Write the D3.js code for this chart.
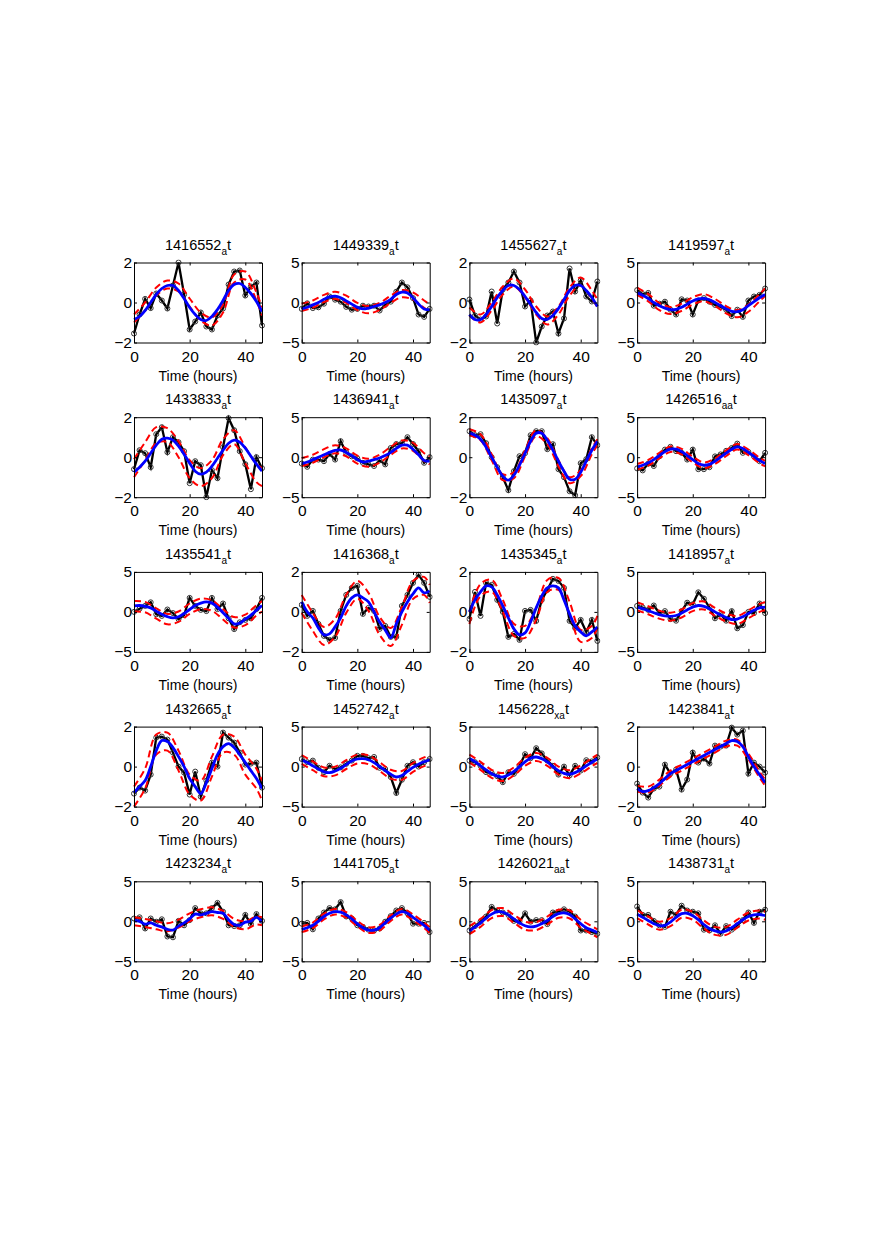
<!doctype html>
<html>
  <head>
    <meta charset="utf-8">
    <script src="https://cdnjs.cloudflare.com/ajax/libs/d3/7.8.5/d3.min.js"></script>
    <style>
      body { margin: 0; background: #fff; }
      text { font-family: "Liberation Sans", Arial, Helvetica, sans-serif; fill: #000; }
      path.data { fill: none; stroke: #000; stroke-width: 2.3; }
      circle.data { fill: none; stroke: #333; stroke-width: 1; }
      path.fit { fill: none; stroke: #0000ff; stroke-width: 2.8; }
      path.band { fill: none; stroke: #ff0000; stroke-width: 2; stroke-dasharray: 7 4; }
    </style>
  </head>
  <body>
    <svg id="fig" width="872" height="1253"></svg>
    <script>
      // sampling times (hours)
      var hours = [0,2,4,6,8,10,12,14,16,18,20,22,24,26,28,30,32,34,36,38,40,42,44,46];
      var bandHours = [0,4,8,12,16,20,24,28,32,36,40,44,46];

      var probeIds = [
        "1416552_at", "1449339_at", "1455627_at", "1419597_at",
        "1433833_at", "1436941_at", "1435097_at", "1426516_a_at",
        "1435541_at", "1416368_at", "1435345_at", "1418957_at",
        "1432665_at", "1452742_at", "1456228_x_at", "1423841_at",
        "1423234_at", "1441705_at", "1426021_a_at", "1438731_at"
      ];
      var yLimit = [2,5,2,5, 2,5,2,5, 5,2,2,5, 2,5,5,2, 5,5,5,5];
      var xTicks = [0, 20, 40];

      // measured expression (black, circles)
      var expression = [
        [-1.55,-0.6,0.18,-0.28,0.45,0.1,-0.3,0.85,2.0,0.4,-1.35,-0.95,-0.5,-1.2,-1.35,-0.65,-0.3,0.9,1.55,1.6,0.35,0.8,1.0,-1.15],
        [-0.8,-0.1,-0.7,-0.6,-0.15,0.75,0.35,0.1,-0.55,-0.9,-0.8,-0.4,-0.5,-0.4,-1.0,-0.3,0.1,1.35,2.5,1.9,0.55,-1.5,-1.8,-0.8],
        [0.15,-0.65,-0.85,-0.7,0.55,-1.05,0.65,1.0,1.55,1.0,-0.2,0.1,-2.0,-1.2,-0.65,-0.45,-1.55,-0.8,1.7,0.55,1.1,0.3,0.05,1.05],
        [1.55,1.05,1.2,-0.4,-0.15,0.1,-0.9,-1.5,0.4,0.25,-1.5,0.25,0.55,0.1,-0.3,-0.55,-0.9,-1.7,-0.9,-1.8,0.25,0.75,0.95,1.75],
        [-0.6,0.35,0.2,-0.5,1.15,1.5,0.25,1.0,0.75,0.3,-1.3,-0.2,-0.4,-2.0,-0.65,-1.05,0.5,1.95,1.35,0.3,-0.35,-1.6,0.0,-0.55],
        [-0.8,-1.2,-0.3,-0.3,-0.5,0.4,-0.3,2.0,0.55,0.1,-0.15,-0.7,-0.9,-1.1,-0.4,-0.9,1.15,1.65,1.75,2.5,1.65,0.75,-0.7,0.0],
        [1.3,1.1,1.15,0.7,0.0,-0.5,-1.0,-1.65,-0.7,0.05,0.2,1.1,1.3,1.3,0.4,0.65,-0.6,-1.0,-1.7,-1.9,-0.3,-0.1,1.0,0.6],
        [-1.4,-1.65,-0.8,-1.1,0.1,0.95,1.3,0.75,0.55,-0.3,0.95,-1.5,-1.5,-1.25,0.1,0.35,0.8,1.15,1.7,0.55,0.65,0.1,-0.5,0.55],
        [0.0,0.4,0.75,1.2,-0.3,-0.5,0.3,-0.15,-0.9,-0.4,1.75,0.75,0.25,0.1,1.75,0.35,1.05,-0.8,-2.15,-1.3,-1.0,-0.8,0.35,1.75],
        [0.35,-0.2,0.05,-0.6,-1.2,-1.4,-1.3,0.05,0.85,1.2,1.3,-0.1,0.2,0.05,-0.85,-0.7,-1.25,-1.25,0.3,0.85,1.45,1.85,1.45,0.75],
        [-0.35,1.0,-0.2,1.45,1.35,0.6,0.0,-1.25,-1.1,-1.4,0.05,0.1,-0.45,0.6,1.1,1.65,1.55,1.2,-0.45,-0.8,-0.4,-1.0,-0.4,-1.45],
        [0.75,0.55,0.25,0.8,-0.15,0.1,-0.9,-1.1,0.1,1.15,0.95,2.45,1.65,0.55,-0.8,-0.3,-1.1,0.1,-2.05,-1.65,0.0,-0.15,1.05,-0.15],
        [-1.35,-1.05,-1.2,-0.4,1.45,1.5,1.35,0.7,0.0,-0.3,-1.4,-0.25,-1.5,-0.7,0.2,0.0,1.7,1.45,1.2,0.7,0.1,0.15,0.2,-1.05],
        [0.95,0.55,0.75,-0.15,-0.7,0.1,-0.3,-0.1,0.35,0.75,1.35,1.35,1.05,1.2,-0.15,-0.3,-1.3,-3.3,-1.65,0.1,0.55,0.0,0.55,0.95],
        [0.75,0.55,0.1,-0.7,-0.8,-1.2,-1.95,-0.7,-0.9,0.1,1.55,1.05,2.3,1.65,0.75,0.1,-1.0,0.0,-1.1,0.1,-0.5,0.8,0.65,1.15],
        [-0.85,-1.3,-1.55,-1.1,-1.0,0.1,-0.35,-0.15,-1.15,-0.65,0.7,0.2,0.4,0.15,1.05,1.0,1.05,1.95,1.6,1.8,-0.35,0.2,0.0,-0.3],
        [0.35,0.5,-0.9,0.35,-0.05,0.25,-1.9,-2.0,0.05,-0.5,0.15,1.65,1.0,1.0,1.65,2.3,1.2,-0.5,-0.6,-0.5,0.8,-0.35,0.9,0.05],
        [-0.3,-0.2,-1.0,0.35,1.1,1.65,1.5,2.4,0.6,0.35,-0.5,-0.7,-1.05,-1.15,-0.9,-0.05,0.65,1.35,1.65,1.0,-0.3,-0.3,-0.2,-1.35],
        [-1.15,-0.6,-0.05,0.6,1.8,1.35,1.1,0.8,0.05,-0.05,1.0,-0.05,0.15,0.15,-0.35,1.1,1.2,1.5,1.2,0.6,-1.15,-1.15,-1.35,-1.55],
        [1.85,0.8,0.8,0.05,-0.5,-0.7,1.2,0.8,1.95,1.35,1.2,1.0,-1.05,-1.15,-0.5,-1.55,-0.6,-1.05,-0.5,0.15,1.1,-0.2,1.2,1.45]
      ];

      // fitted curve (blue)
      var fitted = [
        [-0.85,-0.7,-0.4,0.0,0.4,0.7,0.85,0.85,0.6,0.2,-0.25,-0.6,-0.85,-0.9,-0.7,-0.35,0.1,0.6,0.9,0.95,0.75,0.45,0.05,-0.45],
        [-0.8,-0.6,-0.3,0.0,0.4,0.7,0.8,0.6,0.2,-0.2,-0.6,-0.8,-0.7,-0.5,-0.3,0.0,0.4,1.0,1.3,1.2,0.6,-0.2,-0.8,-0.9],
        [-0.6,-0.85,-0.85,-0.6,-0.2,0.25,0.6,0.85,0.85,0.65,0.3,-0.1,-0.5,-0.8,-0.85,-0.65,-0.3,0.15,0.6,0.85,0.85,0.6,0.25,-0.2],
        [1.2,0.9,0.5,0.0,-0.4,-0.7,-0.9,-0.85,-0.6,-0.2,0.2,0.45,0.5,0.35,0.0,-0.4,-0.8,-1.1,-1.15,-0.9,-0.4,0.1,0.6,1.0],
        [-0.75,-0.5,-0.2,0.2,0.6,0.9,0.95,0.85,0.55,0.15,-0.3,-0.7,-0.85,-0.75,-0.45,-0.05,0.35,0.7,0.85,0.75,0.45,0.05,-0.35,-0.7],
        [-0.8,-0.6,-0.3,0.0,0.3,0.6,0.85,0.9,0.6,0.2,-0.3,-0.6,-0.5,-0.3,-0.1,0.2,0.6,1.1,1.5,1.5,1.0,0.3,-0.4,-0.5],
        [1.2,1.1,0.9,0.5,0.0,-0.5,-0.95,-1.15,-0.9,-0.4,0.2,0.8,1.2,1.2,0.85,0.35,-0.2,-0.7,-1.1,-1.1,-0.75,-0.2,0.35,0.8],
        [-1.2,-1.0,-0.7,-0.3,0.2,0.7,1.0,1.0,0.7,0.2,-0.3,-0.8,-1.0,-0.9,-0.5,0.0,0.5,1.0,1.3,1.1,0.6,0.1,-0.4,-0.8],
        [0.75,0.8,0.7,0.5,0.1,-0.3,-0.6,-0.75,-0.6,-0.2,0.3,0.8,1.1,1.25,1.1,0.6,-0.1,-0.8,-1.5,-1.4,-0.9,-0.4,0.2,0.8],
        [0.5,0.0,-0.3,-0.8,-1.15,-1.1,-0.75,-0.3,0.3,0.7,0.85,0.7,0.5,0.0,-0.5,-0.9,-1.3,-0.6,0.0,0.5,0.9,1.2,0.95,1.05],
        [0.0,0.6,1.0,1.3,1.25,0.85,0.3,-0.3,-0.85,-1.15,-1.05,-0.5,0.2,0.8,1.2,1.3,1.2,0.6,-0.1,-0.7,-1.0,-1.2,-1.0,-0.75],
        [0.6,0.4,0.15,-0.1,-0.35,-0.5,-0.55,-0.45,-0.15,0.25,0.6,0.8,0.7,0.4,0.0,-0.4,-0.7,-0.95,-0.9,-0.6,-0.2,0.2,0.5,0.6],
        [-1.3,-1.0,-0.7,0.0,0.8,1.3,1.25,0.95,0.5,0.0,-0.6,-1.0,-1.35,-0.8,-0.1,0.6,1.0,1.15,0.95,0.6,0.2,-0.2,-0.6,-1.1],
        [0.8,0.5,0.1,-0.3,-0.65,-0.75,-0.55,-0.2,0.25,0.7,0.95,1.0,0.85,0.5,0.0,-0.5,-0.95,-1.3,-1.1,-0.6,-0.1,0.3,0.6,0.85],
        [1.0,0.6,0.1,-0.4,-0.9,-1.2,-1.3,-1.05,-0.6,0.0,0.6,1.05,1.2,1.0,0.6,0.0,-0.5,-0.85,-0.95,-0.75,-0.35,0.1,0.55,0.95],
        [-1.1,-1.25,-1.2,-1.05,-0.85,-0.6,-0.35,-0.2,-0.05,0.1,0.25,0.4,0.55,0.7,0.85,1.0,1.15,1.3,1.25,1.0,0.5,0.0,-0.4,-0.8],
        [0.1,0.0,-0.35,-0.2,-0.5,-0.7,-1.0,-1.1,-0.6,-0.2,0.3,0.9,0.8,1.0,1.2,1.1,1.0,0.2,-0.4,-0.5,-0.1,0.0,0.5,-0.1],
        [-1.0,-0.8,-0.5,0.0,0.6,1.0,1.2,1.15,0.8,0.3,-0.3,-0.8,-1.1,-1.1,-0.8,-0.2,0.4,0.9,1.2,1.0,0.5,0.0,-0.5,-1.1],
        [-1.2,-0.7,-0.2,0.4,0.9,1.2,1.15,0.8,0.3,-0.2,-0.55,-0.7,-0.6,-0.3,0.1,0.6,0.95,1.05,0.85,0.3,-0.3,-0.8,-1.1,-1.4],
        [0.9,0.5,0.1,-0.3,-0.55,-0.5,-0.1,0.5,0.95,1.0,0.7,0.2,-0.4,-0.9,-1.2,-1.35,-1.2,-0.8,-0.3,0.2,0.6,0.8,0.85,0.7]
      ];

      // red dashed band, upper and lower edge
      var bandUpper = [
        [-0.6,0.0,0.75,1.1,0.95,0.2,-0.5,-0.75,-0.1,1.4,1.55,0.5,-0.25],
        [-0.15,0.25,0.95,1.35,0.85,-0.05,-0.45,-0.05,0.85,1.55,1.25,0.25,-0.25],
        [-0.25,-0.6,0.0,0.8,1.2,0.65,-0.2,-0.7,-0.2,0.75,1.25,0.6,0.15],
        [1.85,1.05,-0.05,-0.55,-0.15,0.65,1.05,0.45,-0.45,-0.95,-0.25,1.05,1.75],
        [-0.1,0.75,1.5,1.45,0.8,-0.15,-0.55,-0.15,0.9,1.35,0.5,-0.35,-0.55],
        [-0.1,0.3,1.0,1.5,1.1,0.2,-0.2,0.3,1.3,2.1,1.8,0.5,0.1],
        [1.4,1.15,0.15,-0.85,-0.75,0.35,1.35,0.95,-0.15,-1.0,-0.65,0.45,0.9],
        [-0.85,-0.35,0.55,1.35,1.05,0.05,-0.65,-0.15,0.85,1.65,0.95,-0.05,-0.45],
        [1.35,1.25,0.45,-0.25,0.05,1.05,1.65,1.45,0.35,-0.65,-0.35,0.85,1.35],
        [0.85,-0.05,-0.75,-0.35,0.85,1.55,0.95,-0.25,-0.8,0.25,1.55,1.75,1.35],
        [0.0,1.4,1.6,0.6,-0.6,-0.7,0.2,1.6,1.7,0.5,-0.9,-0.7,-0.2],
        [1.2,0.7,0.15,-0.1,0.3,1.1,1.3,0.5,-0.2,-0.5,0.2,1.0,1.2],
        [-1.0,-0.1,1.6,1.7,0.8,-0.4,-0.7,0.5,1.6,1.5,0.6,-0.1,-0.7],
        [1.45,0.65,-0.1,0.0,0.8,1.5,1.4,0.55,-0.4,-0.55,0.45,1.15,1.4],
        [1.5,0.6,-0.4,-0.8,-0.1,1.1,1.7,1.1,0.0,-0.45,0.15,1.05,1.45],
        [-0.95,-1.0,-0.65,-0.2,0.1,0.4,0.7,1.0,1.3,1.35,0.65,-0.25,-0.65],
        [0.5,0.3,0.0,-0.25,0.2,1.0,1.5,1.75,1.3,0.3,0.0,0.6,0.5],
        [-0.65,-0.15,0.95,1.55,1.15,0.05,-0.75,-0.45,0.75,1.55,0.85,-0.15,-0.75],
        [-0.6,0.3,1.4,1.65,0.8,-0.05,-0.1,0.6,1.45,1.35,0.2,-0.6,-1.0],
        [1.4,0.6,-0.05,0.4,1.45,1.2,0.1,-0.7,-0.7,0.2,1.1,1.35,1.2]
      ];
      var bandLower = [
        [-1.0,-0.4,0.35,0.7,0.55,-0.2,-0.9,-1.15,-0.5,1.0,1.15,0.1,-0.65],
        [-1.05,-0.65,0.05,0.45,-0.05,-0.95,-1.35,-0.95,-0.05,0.65,0.35,-0.65,-1.15],
        [-0.65,-1.0,-0.4,0.4,0.8,0.25,-0.6,-1.1,-0.6,0.35,0.85,0.2,-0.25],
        [0.95,0.15,-0.95,-1.45,-1.05,-0.25,0.15,-0.45,-1.35,-1.85,-1.15,0.15,0.85],
        [-1.0,-0.15,0.7,0.75,0.0,-1.05,-1.45,-1.05,0.1,0.65,-0.3,-1.25,-1.45],
        [-1.1,-0.7,0.0,0.5,0.1,-0.8,-1.2,-0.7,0.3,1.1,0.8,-0.5,-0.9],
        [1.1,0.85,-0.15,-1.15,-1.05,0.05,1.05,0.65,-0.45,-1.3,-0.95,0.15,0.6],
        [-1.55,-1.05,-0.15,0.65,0.35,-0.65,-1.35,-0.85,0.15,0.95,0.25,-0.75,-1.15],
        [0.05,-0.05,-0.85,-1.55,-1.25,-0.25,0.35,0.15,-0.95,-1.95,-1.65,-0.45,0.05],
        [-0.05,-0.95,-1.65,-1.25,-0.05,0.65,0.05,-1.15,-1.7,-0.65,0.65,0.85,0.45],
        [-0.6,0.8,1.0,0.0,-1.2,-1.3,-0.4,1.0,1.1,-0.1,-1.5,-1.3,-0.8],
        [0.2,-0.3,-0.85,-1.1,-0.7,0.1,0.3,-0.5,-1.2,-1.5,-0.8,0.0,0.2],
        [-2.0,-1.1,0.6,0.8,-0.2,-1.4,-1.7,-0.5,0.7,0.6,-0.4,-1.1,-1.7],
        [0.35,-0.45,-1.2,-1.1,-0.3,0.4,0.3,-0.55,-1.5,-1.65,-0.65,0.05,0.3],
        [0.5,-0.4,-1.4,-1.8,-1.1,0.1,0.7,0.1,-1.0,-1.45,-0.85,0.05,0.45],
        [-1.25,-1.3,-0.95,-0.5,-0.2,0.1,0.4,0.7,1.0,1.05,0.35,-0.55,-0.95],
        [-0.5,-0.7,-1.0,-1.25,-0.8,0.0,0.5,0.75,0.3,-0.7,-1.0,-0.4,-0.5],
        [-1.35,-0.85,0.25,0.85,0.45,-0.65,-1.45,-1.15,0.05,0.85,0.15,-0.85,-1.45],
        [-1.6,-0.7,0.4,0.65,-0.2,-1.05,-1.1,-0.4,0.45,0.35,-0.8,-1.6,-2.0],
        [0.4,-0.4,-1.05,-0.6,0.45,0.2,-0.9,-1.7,-1.7,-0.8,0.1,0.35,0.2]
      ];

      var svg = d3.select("#fig");
      svg.append("rect").attr("width", 872).attr("height", 1253).attr("fill", "#fff");

      var panelW = 128, panelH = 80;
      var left0 = 134, colStep = 167.7, top0 = 262.5, rowStep = 154.7;
      var tickFmt = d3.format("d");

      // TeX-like title: "_x" makes x a subscript, like matlab does
      function texTitle(sel, id) {
        var parts = [];
        for (var i = 0; i < id.length; i++) {
          var sub = false, ch = id[i];
          if (ch === "_" && i + 1 < id.length) { sub = true; ch = id[++i]; }
          var last = parts[parts.length - 1];
          if (last && last.sub === sub) last.s += ch;
          else parts.push({ s: ch, sub: sub });
        }
        var shifted = false;
        parts.forEach(function (p) {
          var t = sel.append("tspan").text(p.s);
          if (p.sub) { t.attr("font-size", 10).attr("dy", shifted ? 0 : 5); shifted = true; }
          else { t.attr("dy", shifted ? -5 : 0); shifted = false; }
        });
      }

      probeIds.forEach(function (id, k) {
        var row = Math.floor(k / 4), col = k % 4;
        var g = svg.append("g")
          .attr("transform", "translate(" + (left0 + col * colStep) + "," + (top0 + row * rowStep) + ")");

        var x = d3.scaleLinear().domain([0, 46]).range([0, panelW]);
        var y = d3.scaleLinear().domain([-yLimit[k], yLimit[k]]).range([panelH, 0]);

        g.append("clipPath").attr("id", "clip" + k)
          .append("rect").attr("x", -3).attr("y", -3).attr("width", panelW + 6).attr("height", panelH + 6);
        var plot = g.append("g").attr("clip-path", "url(#clip" + k + ")");

        var line = d3.line().x(function (d) { return x(d[0]); }).y(function (d) { return y(d[1]); });
        var smooth = d3.line().curve(d3.curveCatmullRom.alpha(0.5))
          .x(function (d) { return x(d[0]); }).y(function (d) { return y(d[1]); });

        var pts = hours.map(function (h, i) { return [h, expression[k][i]]; });
        plot.append("path").attr("class", "data").attr("d", line(pts));
        plot.selectAll("circle").data(pts).enter().append("circle")
          .attr("class", "data").attr("r", 2.5)
          .attr("cx", function (d) { return x(d[0]); })
          .attr("cy", function (d) { return y(d[1]); });

        [bandUpper[k], bandLower[k]].forEach(function (b) {
          plot.append("path").attr("class", "band")
            .attr("d", smooth(bandHours.map(function (h, i) { return [h, b[i]]; })));
        });

        plot.append("path").attr("class", "fit")
          .attr("d", smooth(hours.map(function (h, i) { return [h, fitted[k][i]]; })));

        var yTicks = [-yLimit[k], 0, yLimit[k]];
        var axes = [
          d3.axisBottom(x).tickValues(xTicks).tickFormat(tickFmt).tickPadding(8),
          d3.axisTop(x).tickValues(xTicks).tickFormat(""),
          d3.axisLeft(y).tickValues(yTicks).tickFormat(tickFmt).tickPadding(2),
          d3.axisRight(y).tickValues(yTicks).tickFormat("")
        ];
        var shifts = ["0," + panelH, "0,0", "0,0", panelW + ",0"];
        axes.forEach(function (ax, j) {
          var a = g.append("g").attr("transform", "translate(" + shifts[j] + ")")
            .call(ax.tickSizeInner(-3).tickSizeOuter(0));
          a.attr("font-size", 15.5).attr("font-family", null);
          a.selectAll("path, line").attr("stroke", "#000");
        });

        var title = g.append("text").attr("x", panelW / 2).attr("y", -13)
          .attr("text-anchor", "middle").attr("font-size", 14.5);
        texTitle(title, id);

        g.append("text").attr("x", panelW / 2).attr("y", panelH + 38)
          .attr("text-anchor", "middle").attr("font-size", 14).text("Time (hours)");
      });
    </script>
  </body>
</html>
